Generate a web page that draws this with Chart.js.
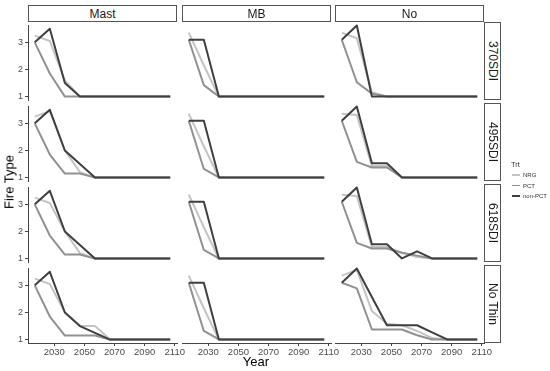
<!DOCTYPE html>
<html>
<head>
<meta charset="utf-8">
<script src="https://cdn.jsdelivr.net/npm/chart.js@4.4.1/dist/chart.umd.min.js"></script>
<style>
  body { margin: 0; background: #fff; }
  #wrap { position: relative; width: 550px; height: 371px; overflow: hidden; font-family: "Liberation Sans", Arial, sans-serif; }
  .panel { position: absolute; }
  .strip { position: absolute; box-sizing: border-box; border: 1px solid #555; background: #fff; color: #1a1a1a;
           font-size: 12px; display: flex; align-items: center; justify-content: center; }
  .strip.right span { writing-mode: vertical-rl; }
  .title { position: absolute; font-size: 13px; color: #000; white-space: nowrap; }
  .lg { position: absolute; font-size: 6px; color: #333; white-space: nowrap; }
  .key { position: absolute; width: 8px; height: 1.6px; }
</style>
</head>
<body>
<div id="wrap"></div>
<script>
const years = [2017, 2027, 2037, 2047, 2057, 2067, 2077, 2087, 2097, 2107];
const sites = ['Mast', 'MB', 'No'];
const sdiLevels = ['370SDI', '495SDI', '618SDI', 'No Thin'];
const trts = ['NRG', 'PCT', 'non-PCT'];
const trtColors = ['#c4c4c4', '#919191', '#3f3f3f'];
const xTicks = [2030, 2050, 2070, 2090, 2110];
const yTicks = [1, 2, 3];

// fire type by year, one list per site: Mast, MB, No
const nrg370 = [
  [3.25, 3.05, 1.6, 1, 1, 1, 1, 1, 1, 1],
  [3.25, 2.1, 1, 1, 1, 1, 1, 1, 1, 1],
  [3.25, 3.05, 1.15, 1, 1, 1, 1, 1, 1, 1]
];
const pct370 = [
  [3, 1.85, 1, 1, 1, 1, 1, 1, 1, 1],
  [3, 1.4, 1, 1, 1, 1, 1, 1, 1, 1],
  [3, 1.5, 1.1, 1, 1, 1, 1, 1, 1, 1]
];
const non370 = [
  [3, 3.5, 1.5, 1, 1, 1, 1, 1, 1, 1],
  [3, 3, 1, 1, 1, 1, 1, 1, 1, 1],
  [3, 3.5, 1, 1, 1, 1, 1, 1, 1, 1]
];

const nrg495 = [
  [3.25, 3.45, 2, 1.2, 1, 1, 1, 1, 1, 1],
  [3.25, 2.1, 1, 1, 1, 1, 1, 1, 1, 1],
  [3.25, 3.2, 1.4, 1.4, 1, 1, 1, 1, 1, 1]
];
const pct495 = [
  [3, 1.85, 1.15, 1.15, 1, 1, 1, 1, 1, 1],
  [3, 1.3, 1, 1, 1, 1, 1, 1, 1, 1],
  [3, 1.55, 1.35, 1.35, 1, 1, 1, 1, 1, 1]
];
const non495 = [
  [3, 3.5, 2, 1.5, 1, 1, 1, 1, 1, 1],
  [3, 3, 1, 1, 1, 1, 1, 1, 1, 1],
  [3, 3.5, 1.5, 1.5, 1, 1, 1, 1, 1, 1]
];

const nrg618 = [
  [3.25, 3.05, 2, 1.2, 1, 1, 1, 1, 1, 1],
  [3.25, 2.1, 1, 1, 1, 1, 1, 1, 1, 1],
  [3.25, 3.2, 1.4, 1.4, 1.2, 1.05, 1, 1, 1, 1]
];
const pct618 = [
  [3, 1.85, 1.15, 1.15, 1, 1, 1, 1, 1, 1],
  [3, 1.3, 1, 1, 1, 1, 1, 1, 1, 1],
  [3, 1.55, 1.35, 1.35, 1.2, 1.1, 1, 1, 1, 1]
];
const non618 = [
  [3, 3.5, 2, 1.5, 1, 1, 1, 1, 1, 1],
  [3, 3, 1, 1, 1, 1, 1, 1, 1, 1],
  [3, 3.5, 1.5, 1.5, 1, 1.25, 1, 1, 1, 1]
];

const nrgNoThin = [
  [3.25, 3.05, 2, 1.5, 1.5, 1, 1, 1, 1, 1],
  [3.25, 2.1, 1, 1, 1, 1, 1, 1, 1, 1],
  [3.25, 3.45, 2, 1.55, 1.5, 1.3, 1.05, 1, 1, 1]
];
const pctNoThin = [
  [3, 1.85, 1.15, 1.15, 1.15, 1, 1, 1, 1, 1],
  [3, 1.3, 1, 1, 1, 1, 1, 1, 1, 1],
  [3, 2.8, 1.35, 1.35, 1.35, 1.15, 1, 1, 1, 1]
];
const nonNoThin = [
  [3, 3.5, 2, 1.5, 1.25, 1, 1, 1, 1, 1],
  [3, 3, 1, 1, 1, 1, 1, 1, 1, 1],
  [3, 3.5, 2.5, 1.5, 1.5, 1.5, 1.25, 1, 1, 1]
];

const rows = [
  [nrg370, pct370, non370],
  [nrg495, pct495, non495],
  [nrg618, pct618, non618],
  [nrgNoThin, pctNoThin, nonNoThin]
];

// layout of the facet grid
const colLeft = [28, 182, 335];
const rowTop = [22, 103, 184, 265];
const panelW = 149, panelH = 78;
const L = 30, R = 14, T = 4, B = 26;

Chart.defaults.font.family = '"Liberation Sans", Arial, sans-serif';
const wrap = document.getElementById('wrap');

function add(cls, x, y, w, h, html) {
  const d = document.createElement('div');
  d.className = cls;
  d.style.left = x + 'px';
  d.style.top = y + 'px';
  if (w != null) d.style.width = w + 'px';
  if (h != null) d.style.height = h + 'px';
  if (html != null) d.innerHTML = html;
  wrap.appendChild(d);
  return d;
}

function makePanel(r, c) {
  const first = c === 0, last = r === rowTop.length - 1;
  const w = panelW + L + R, h = panelH + T + B;
  const div = add('panel', colLeft[c] - L, rowTop[r] - T, w, h);
  const cv = document.createElement('canvas');
  cv.width = w; cv.height = h;
  div.appendChild(cv);

  const datasets = trts.map((name, k) => ({
    label: name,
    data: years.map((yr, i) => ({ x: yr, y: rows[r][k][c][i] })),
    borderColor: trtColors[k],
    borderWidth: 2,
    pointRadius: 0,
    tension: 0,
    borderJoinStyle: 'round',
    order: 2 - k
  }));

  new Chart(cv, {
    type: 'line',
    data: { datasets },
    options: {
      responsive: false,
      animation: false,
      events: [],
      layout: { padding: { left: first ? 0 : L, right: R, top: T, bottom: last ? 0 : B } },
      plugins: { legend: { display: false }, tooltip: { enabled: false } },
      scales: {
        x: {
          type: 'linear', min: 2012.5, max: 2111.5, display: last,
          afterBuildTicks: s => { s.ticks = xTicks.map(v => ({ value: v })); },
          afterFit: s => { if (last) s.height = B; },
          grid: { display: true, drawOnChartArea: false, drawTicks: true, tickLength: 3, color: '#444' },
          border: { display: true, color: '#444', width: 1 },
          ticks: { color: '#4d4d4d', font: { size: 9.5 }, padding: 1, maxRotation: 0, autoSkip: false, callback: v => String(v) }
        },
        y: {
          type: 'linear', min: 0.875, max: 3.625, display: first,
          afterBuildTicks: s => { s.ticks = yTicks.map(v => ({ value: v })); },
          afterFit: s => { if (first) s.width = L; },
          grid: { display: true, drawOnChartArea: false, drawTicks: true, tickLength: 3, color: '#444' },
          border: { display: true, color: '#444', width: 1 },
          ticks: { color: '#4d4d4d', font: { size: 9 }, padding: 2, autoSkip: false, callback: v => String(v) }
        }
      }
    }
  });
}

for (let r = 0; r < rowTop.length; r++) {
  for (let c = 0; c < colLeft.length; c++) makePanel(r, c);
}

// facet strips
sites.forEach((s, c) => add('strip', colLeft[c], 5, panelW, 17, '<span>' + s + '</span>'));
sdiLevels.forEach((s, r) => add('strip right', 484, rowTop[r], 17, panelH, '<span>' + s + '</span>'));

// axis titles
const yt = add('title', 9, 182, null, null, 'Fire Type');
yt.style.transform = 'translate(-50%, -50%) rotate(-90deg)';
const xt = add('title', 256, 361, null, null, 'Year');
xt.style.transform = 'translate(-50%, -50%)';

// legend
const lt = add('lg', 511, 160, null, null, 'Trt');
lt.style.fontSize = '7.5px';
trts.forEach((name, k) => {
  const y = 175 + k * 10.5;
  const key = add('key', 512, y - 0.8);
  key.style.background = trtColors[k];
  const t = add('lg', 523, y, null, null, name);
  t.style.transform = 'translateY(-50%)';
});
</script>
</body>
</html>
